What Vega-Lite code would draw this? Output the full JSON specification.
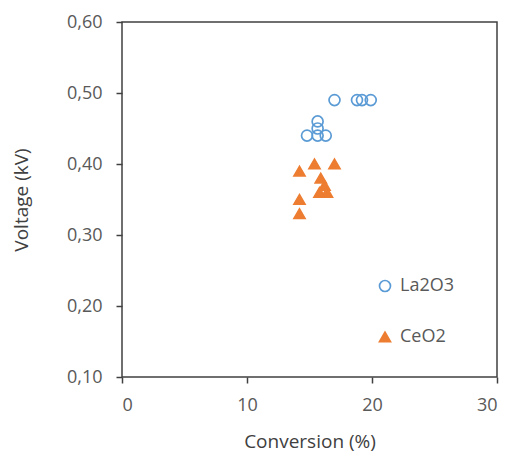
{
  "$schema": "https://vega.github.io/schema/vega-lite/v6.json",
  "width": 375,
  "height": 355,
  "autosize": {"type": "none"},
  "padding": {"left": 122, "top": 22, "right": 12, "bottom": 80},
  "background": "white",
  "config": {
    "font": "Open Sans",
    "view": {"stroke": "#404040", "strokeWidth": 1.5},
    "axis": {"grid": false, "domain": false, "tickColor": "#404040", "tickSize": 6, "tickWidth": 1.5, "labelColor": "#595959", "labelFontSize": 18, "titleColor": "#404040", "titleFontSize": 19, "titleFontWeight": "normal", "labelFont": "Open Sans", "titleFont": "Open Sans"}
  },
  "data": {"values": [
    {"conv": 17.0, "volt": 0.49, "cat": "La2O3"},
    {"conv": 18.8, "volt": 0.49, "cat": "La2O3"},
    {"conv": 19.2, "volt": 0.49, "cat": "La2O3"},
    {"conv": 19.9, "volt": 0.49, "cat": "La2O3"},
    {"conv": 15.65, "volt": 0.46, "cat": "La2O3"},
    {"conv": 15.65, "volt": 0.45, "cat": "La2O3"},
    {"conv": 14.8, "volt": 0.44, "cat": "La2O3"},
    {"conv": 15.65, "volt": 0.44, "cat": "La2O3"},
    {"conv": 16.3, "volt": 0.44, "cat": "La2O3"},
    {"conv": 14.2, "volt": 0.39, "cat": "CeO2"},
    {"conv": 15.4, "volt": 0.40, "cat": "CeO2"},
    {"conv": 17.0, "volt": 0.40, "cat": "CeO2"},
    {"conv": 15.9, "volt": 0.38, "cat": "CeO2"},
    {"conv": 16.2, "volt": 0.37, "cat": "CeO2"},
    {"conv": 15.8, "volt": 0.36, "cat": "CeO2"},
    {"conv": 16.4, "volt": 0.36, "cat": "CeO2"},
    {"conv": 14.2, "volt": 0.35, "cat": "CeO2"},
    {"conv": 14.2, "volt": 0.33, "cat": "CeO2"}
  ]},
  "mark": {"type": "point", "size": 120, "strokeWidth": 1.7, "opacity": 1},
  "encoding": {
    "x": {"field": "conv", "type": "quantitative", "title": "Conversion (%)",
      "scale": {"domain": [0, 30], "nice": false},
      "axis": {"values": [0, 10, 20, 30], "labelPadding": 13, "titlePadding": 18}},
    "y": {"field": "volt", "type": "quantitative", "title": "Voltage (kV)",
      "scale": {"domain": [0.1, 0.6], "nice": false, "zero": false},
      "axis": {"values": [0.1, 0.2, 0.3, 0.4, 0.5, 0.6], "labelExpr": "replace(format(datum.value, '.2f'), '.', ',')", "labelPadding": 14, "titlePadding": 35}},
    "shape": {"field": "cat", "type": "nominal",
      "scale": {"domain": ["La2O3", "CeO2"], "range": ["circle", "triangle-up"]},
      "legend": {"title": null, "orient": "none", "legendX": 254, "legendY": 255, "labelFontSize": 18, "labelColor": "#595959", "symbolSize": 120, "rowPadding": 33, "labelOffset": 6, "symbolStrokeWidth": 1.7}},
    "color": {"field": "cat", "type": "nominal",
      "scale": {"domain": ["La2O3", "CeO2"], "range": ["#5B9BD5", "#ED7D31"]}},
    "fill": {"field": "cat", "type": "nominal",
      "scale": {"domain": ["La2O3", "CeO2"], "range": ["transparent", "#ED7D31"]}}
  }
}
